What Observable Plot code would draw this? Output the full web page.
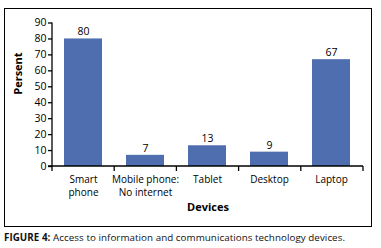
<!DOCTYPE html>
<html><head><meta charset="utf-8">
<script src="https://cdn.jsdelivr.net/npm/d3@7"></script>
<script src="https://cdn.jsdelivr.net/npm/@observablehq/plot@0.6"></script>
<style>
body{margin:0;background:#fff;font-family:"Open Sans",sans-serif;}
#box{position:absolute;left:4px;top:8px;width:366px;height:217px;border:1px solid #000;}
#cap{position:absolute;left:4px;top:231px;font-size:9.8px;color:#111;white-space:nowrap;letter-spacing:0.05px;}
</style></head><body>
<div id="box"></div>
<div id="cap"><b>FIGURE 4:</b> Access to information and communications technology devices.</div>
<script>
const devices = ["Smart\nphone", "Mobile phone:\nNo internet", "Tablet", "Desktop", "Laptop"];
const percent = [80, 7, 13, 9, 67];
const yTicks = [0, 10, 20, 30, 40, 50, 60, 70, 80, 90];
const data = devices.map((d, i) => ({device: d, value: percent[i]}));

const W = 366, H = 217;
const axesMark = (index, scales, values, dims) => {
  const g = d3.create("svg:g").attr("stroke", "#000").attr("stroke-width", 1.3);
  const x0 = dims.marginLeft, x1 = dims.width - dims.marginRight;
  const y0 = scales.y(0), y1 = scales.y(90);
  g.append("line").attr("x1", x0).attr("x2", x0).attr("y1", y0).attr("y2", y1);
  g.append("line").attr("x1", x0 - 4).attr("x2", x1).attr("y1", y0).attr("y2", y0);
  const step = (x1 - x0) / devices.length;
  for (let i = 0; i <= devices.length; i++) {
    const x = x0 + i * step;
    g.append("line").attr("x1", x).attr("x2", x).attr("y1", y0).attr("y2", y0 + 5);
  }
  return g.node();
};

const chart = Plot.plot({
  width: W, height: H,
  marginLeft: 47, marginRight: 8, marginTop: 13.5, marginBottom: 60,
  style: {fontFamily: "'Open Sans', sans-serif", fontSize: "10px", color: "#000", background: "transparent"},
  x: {domain: devices, paddingInner: 0.38, paddingOuter: 0.19, label: null},
  y: {domain: [0, 90], label: null},
  marks: [
    Plot.barY(data, {x: "device", y: "value", fill: "#4f6eaf"}),
    Plot.text(data, {x: "device", y: "value", text: d => String(d.value), dy: -7, fontSize: 10.5, fill: "#000"}),
    Plot.axisY({ticks: yTicks, tickSize: 4, tickPadding: 2, fontSize: 10.5, stroke: "#000", strokeWidth: 1.3}),
    Plot.axisX({tickSize: 0, tickPadding: 8, fontSize: 10, lineHeight: 1.25}),
    Plot.text(["Persent"], {frameAnchor: "left", dx: -34, rotate: -90, fontWeight: "bold", fontSize: 11}),
    Plot.text(["Devices"], {frameAnchor: "bottom", dy: 44, fontWeight: "bold", fontSize: 11}),
    axesMark
  ]
});
document.getElementById("box").appendChild(chart);
</script>
</body></html>
